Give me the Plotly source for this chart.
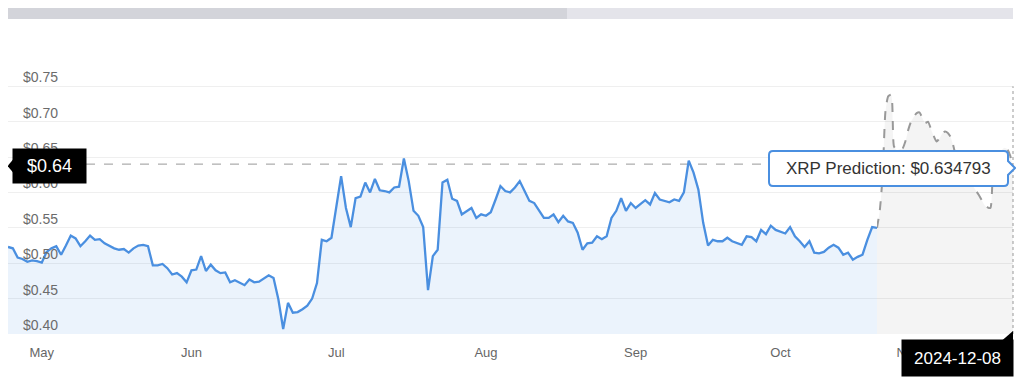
import pandas as pd
import plotly.graph_objects as go

# ---------------- data ----------------
hist_start = "2024-04-24"
hist_prices = [
    0.523, 0.521, 0.508, 0.506, 0.502, 0.504, 0.503, 0.501, 0.516, 0.521,
    0.524, 0.512, 0.525, 0.539, 0.535, 0.524, 0.531, 0.539, 0.533, 0.534,
    0.528, 0.524, 0.521, 0.519, 0.520, 0.515, 0.521, 0.525, 0.526, 0.524,
    0.497, 0.497, 0.499, 0.493, 0.484,
    0.486, 0.481, 0.473, 0.490, 0.491, 0.510, 0.489, 0.498, 0.490, 0.486,
    0.487, 0.473, 0.476, 0.472, 0.469, 0.477, 0.473, 0.474, 0.479, 0.483,
    0.479, 0.449, 0.407, 0.444, 0.430, 0.431, 0.435, 0.440, 0.450, 0.472,
    0.533, 0.531, 0.536, 0.581, 0.623, 0.578,
    0.551, 0.592, 0.594, 0.614, 0.600, 0.619, 0.603, 0.602, 0.600, 0.607,
    0.608, 0.648, 0.616, 0.574, 0.567, 0.551, 0.462, 0.510, 0.519, 0.614,
    0.618, 0.591, 0.588, 0.569, 0.573, 0.578, 0.564, 0.569, 0.567, 0.572,
    0.590, 0.609, 0.602, 0.600, 0.607,
    0.616, 0.602, 0.588, 0.585, 0.574, 0.564, 0.564, 0.569, 0.558, 0.567,
    0.559, 0.557, 0.543, 0.519, 0.528, 0.529, 0.538, 0.534, 0.538, 0.564,
    0.574, 0.592, 0.574, 0.585, 0.578, 0.584, 0.589, 0.583, 0.599, 0.590,
    0.588, 0.586, 0.590, 0.588, 0.600,
    0.645, 0.628, 0.604, 0.557, 0.525, 0.533, 0.531, 0.531, 0.536, 0.531,
    0.529, 0.526, 0.538, 0.537, 0.531, 0.547, 0.541, 0.553, 0.547, 0.545,
    0.542, 0.551, 0.538, 0.531, 0.523, 0.531, 0.515, 0.514, 0.516, 0.522,
    0.526, 0.522, 0.512, 0.515, 0.505, 0.509, 0.512, 0.533, 0.551, 0.550,
]
pred_start = "2024-10-21"
pred_prices = [
    0.550, 0.575, 0.625, 0.715, 0.736, 0.738, 0.665, 0.660, 0.661, 0.662,
    0.672, 0.688, 0.700, 0.707, 0.712, 0.713, 0.705, 0.698, 0.700, 0.690,
    0.680, 0.672, 0.676, 0.683, 0.686, 0.684, 0.678, 0.665, 0.648, 0.634,
    0.626, 0.620, 0.615, 0.611, 0.608, 0.602, 0.596, 0.589, 0.582, 0.579,
    0.578, 0.635, 0.650, 0.657, 0.660, 0.663, 0.661, 0.652, 0.634793,
]
current_price = 0.64
y_ticks = [0.40, 0.45, 0.50, 0.55, 0.60, 0.65, 0.70, 0.75]
pred_month_ticks = ["2024-11-01"]
pred_month_labels = ["Nov"]

hist_dates = pd.date_range(hist_start, periods=len(hist_prices), freq="D")
pred_dates = pd.date_range(pred_start, periods=len(pred_prices), freq="D")

# ---------------- layout helpers (screen pixels; page body has an 8px margin) ----------------
OFF = 8
W, H = 1024 - OFF, 380 - OFF
PL, PR, PT, PB = 8, 1013, 65, 334   # plot area in screen pixels


def px(x):
    return (x - PL) / (PR - PL)


def py(y):
    return (PB - y) / (PB - PT)


FONT = "Liberation Sans, Arial, sans-serif"
BLUE = "#4a8fe0"

fig = go.Figure()
fig.add_trace(go.Scatter(
    x=hist_dates, y=hist_prices, mode="lines",
    line=dict(color=BLUE, width=2.3),
    fill="tozeroy", fillcolor="rgba(74,143,224,0.11)",
    xaxis="x", yaxis="y", hoverinfo="skip", showlegend=False,
))
fig.add_trace(go.Scatter(
    x=pred_dates, y=pred_prices, mode="lines",
    line=dict(color="#999999", width=2, dash="dash", shape="spline", smoothing=0.6),
    fill="tozeroy", fillcolor="rgba(0,0,0,0.045)",
    xaxis="x2", yaxis="y", hoverinfo="skip", showlegend=False,
))

split = px(877)

# tooltip path with rounded corners and right pointer
r_x, r_y = 4 / (PR - PL), 4 / (PB - PT)
bx0, bx1, by0, by1 = px(769), px(1008), py(186), py(151)
tip_x, tip_y = px(1015), py(168)
tooltip_path = (
    f"M {bx0 + r_x},{by1} L {bx1 - r_x},{by1} Q {bx1},{by1} {bx1},{by1 - r_y} "
    f"L {bx1},{py(161)} L {tip_x},{tip_y} L {bx1},{py(175)} "
    f"L {bx1},{by0 + r_y} Q {bx1},{by0} {bx1 - r_x},{by0} "
    f"L {bx0 + r_x},{by0} Q {bx0},{by0} {bx0},{by0 + r_y} "
    f"L {bx0},{by1 - r_y} Q {bx0},{by1} {bx0 + r_x},{by1} Z"
)

shapes = [
    # top navigator bar
    dict(type="rect", xref="paper", yref="paper", x0=px(8), x1=px(1013), y0=py(19), y1=py(8),
         fillcolor="#e4e4ea", line=dict(width=0), layer="above"),
    dict(type="rect", xref="paper", yref="paper", x0=px(8), x1=px(567), y0=py(19), y1=py(8),
         fillcolor="#d3d4da", line=dict(width=0), layer="above"),
    # crosshairs
    dict(type="line", xref="paper", yref="y", x0=px(86), x1=1, y0=current_price, y1=current_price,
         line=dict(color="#999999", width=1, dash="dash"), layer="below"),
    dict(type="line", xref="paper", yref="y", x0=1, x1=1, y0=y_ticks[0], y1=y_ticks[-1],
         line=dict(color="#999999", width=1, dash="dot"), layer="above"),
    # tooltip box
    dict(type="path", xref="paper", yref="paper", path=tooltip_path,
         fillcolor="white", line=dict(color=BLUE, width=2), layer="above"),
    # pointer of the price label
    dict(type="path", xref="paper", yref="paper",
         path=f"M {px(13.5)},{py(159)} L {px(7.5)},{py(166)} L {px(13.5)},{py(173)} Z",
         fillcolor="black", line=dict(width=0), layer="above"),
    # notch of the date label
    dict(type="path", xref="paper", yref="paper",
         path=f"M {px(1002)},{py(340.5)} L {px(1013)},{py(331)} L {px(1013)},{py(340.5)} Z",
         fillcolor="black", line=dict(width=0), layer="above"),
]

# y-axis labels drawn inside the plot, just above each gridline
annotations = [
    dict(xref="paper", yref="y", x=0, y=v, text=f"${v:.2f}", showarrow=False,
         xanchor="left", yanchor="middle", xshift=13, yshift=9,
         font=dict(family=FONT, size=14, color="#6b6b6b"))
    for v in y_ticks
]
annotations += [
    dict(xref="paper", yref="paper", x=px(49.5), y=py(166), text=f"${current_price:.2f}",
         showarrow=False, xanchor="center", yanchor="middle", width=73, height=34,
         bgcolor="black", borderpad=0, font=dict(family=FONT, size=18, color="white")),
    dict(xref="paper", yref="paper", x=px(957.5), y=py(358), text=str(pred_dates[-1].date()),
         showarrow=False, xanchor="center", yanchor="middle", width=111, height=36,
         bgcolor="black", borderpad=0, font=dict(family=FONT, size=17, color="white")),
    dict(xref="paper", yref="paper", x=px(888.5), y=py(168.5),
         text=f"XRP Prediction: ${pred_prices[-1]:.6f}",
         showarrow=False, xanchor="center", yanchor="middle",
         font=dict(family=FONT, size=17, color="#333333")),
]

xcommon = dict(type="date", showgrid=False, zeroline=False,
               showline=False, ticks="", ticklabelstandoff=9,
               tickfont=dict(size=13, color="#666666"), anchor="y")

fig.update_layout(
    width=W, height=H,
    margin=dict(l=PL - OFF, r=W - (PR - OFF), t=PT - OFF, b=H - (PB - OFF)),
    paper_bgcolor="white", plot_bgcolor="white",
    font=dict(family=FONT, color="#666666"),
    showlegend=False, hovermode=False,
    xaxis=dict(domain=[0, split], range=[hist_dates[0], hist_dates[-1]],
               dtick="M1", tick0="2024-05-01", tickformat="%b", **xcommon),
    xaxis2=dict(domain=[split, 1], range=[pred_dates[0], pred_dates[-1]],
                tickmode="array", tickvals=pred_month_ticks, ticktext=pred_month_labels,
                **xcommon),
    yaxis=dict(
        range=[0.40, 0.78], tickmode="array", tickvals=y_ticks,
        showticklabels=False,
        showgrid=True, gridcolor="#efefef", gridwidth=1,
        zeroline=False, showline=False, ticks="",
    ),
    shapes=shapes, annotations=annotations,
)

fig.write_html("out.html")
